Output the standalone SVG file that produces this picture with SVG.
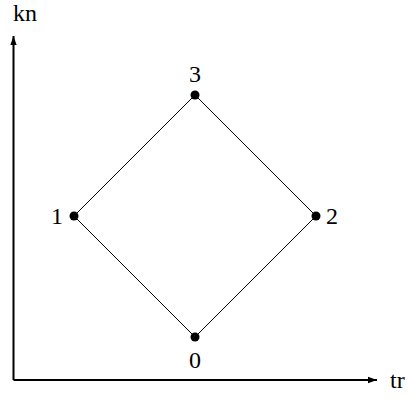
<svg xmlns="http://www.w3.org/2000/svg" width="408" height="406" viewBox="0 0 408 406">
<style>
text{font-family:"Liberation Serif","Times New Roman",serif;font-size:24px;fill:#000}
.edge{stroke:#000;stroke-width:1;fill:none}
.axis{stroke:#000;stroke-width:2;fill:none}
.dot{fill:#000}
</style>
<defs>
<marker id="ah" viewBox="0 0 10 10" refX="10" refY="5" markerWidth="9" markerHeight="9" markerUnits="userSpaceOnUse" orient="auto">
<path d="M0,1.5 L10,5 L0,8.5 Z" fill="#000"/>
</marker>
</defs>
<g id="axes">
<line class="axis" x1="13.5" y1="380" x2="13.5" y2="36" marker-end="url(#ah)"/>
<line class="axis" x1="13.5" y1="380" x2="377" y2="380" marker-end="url(#ah)"/>
<text x="13" y="21">kn</text>
<text x="390" y="388">tr</text>
</g>
<g id="connectors">
<line class="edge" x1="195" y1="95" x2="74" y2="216"/>
<line class="edge" x1="195" y1="95" x2="316" y2="216"/>
<line class="edge" x1="74" y1="216" x2="195" y2="337"/>
<line class="edge" x1="316" y1="216" x2="195" y2="337"/>
</g>
<g id="n3"><circle class="dot" cx="195" cy="95" r="4.5"/><text x="195" y="82" text-anchor="middle">3</text></g>
<g id="n1"><circle class="dot" cx="74" cy="216" r="4.5"/><text x="63" y="224" text-anchor="end">1</text></g>
<g id="n2"><circle class="dot" cx="316" cy="216" r="4.5"/><text x="326" y="224">2</text></g>
<g id="n0"><circle class="dot" cx="195" cy="337" r="4.5"/><text x="195" y="368" text-anchor="middle">0</text></g>
</svg>
